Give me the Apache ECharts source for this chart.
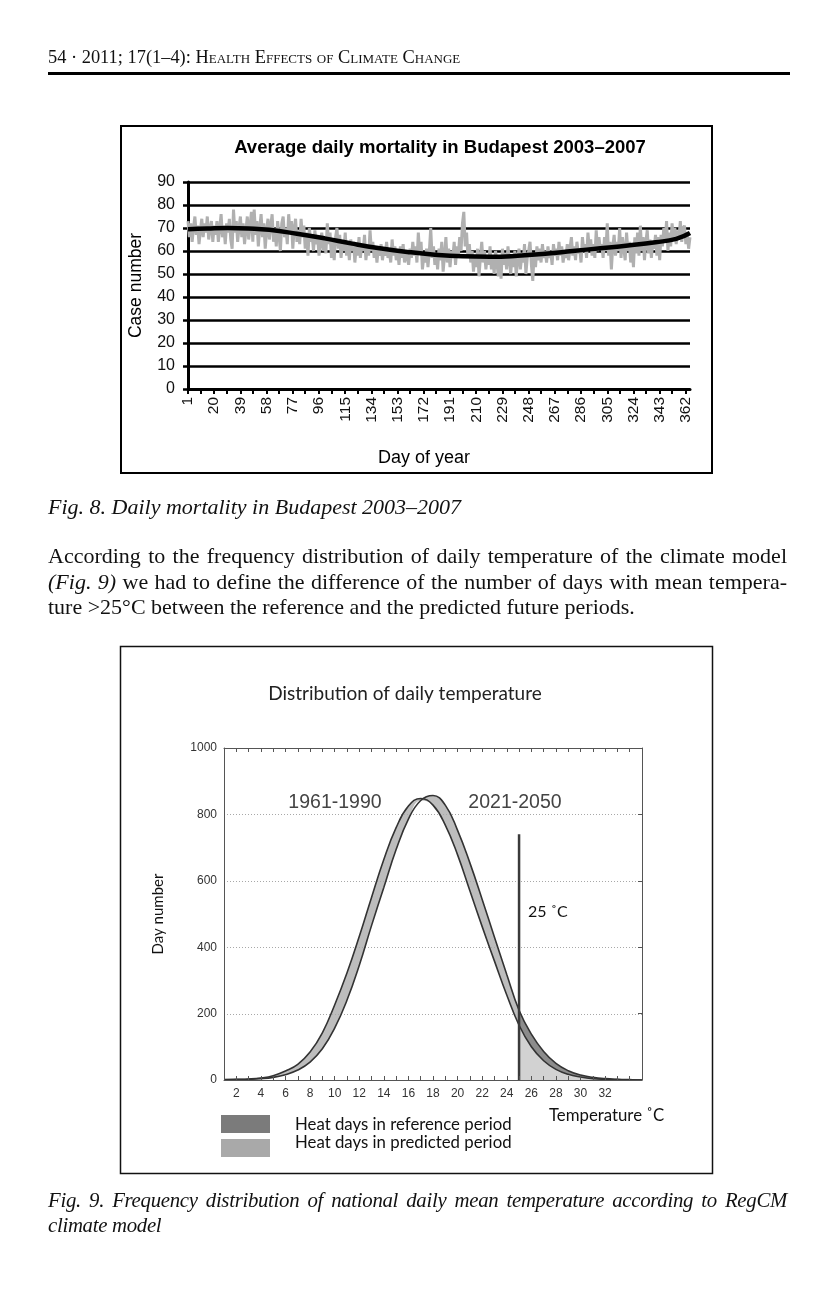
<!DOCTYPE html>
<html>
<head>
<meta charset="utf-8">
<script src="https://cdn.jsdelivr.net/npm/echarts@6/dist/echarts.min.js"></script>
<style>
  body{margin:0;width:834px;height:1294px;background:#fff;position:relative;overflow:hidden;font-family:'Liberation Serif','Times New Roman',serif;color:#111}
  #chart{position:absolute;left:0;top:0;width:834px;height:1294px;z-index:1}
  .t{position:absolute;font-size:22px;line-height:25px;white-space:nowrap;z-index:2}
  .j{text-align:justify;text-align-last:justify;white-space:normal;width:739px}
  .i{font-style:italic}
  .cap9{font-size:20.8px;letter-spacing:-0.3px}
</style>
</head>
<body>
<div id="chart"></div>
<div class="t" style="left:48px;top:47px;font-size:18.4px;line-height:20px;">54 &middot; 2011; 17(1–4): <span style="font-variant:small-caps">Health Effects of Climate Change</span></div>
<div style="position:absolute;left:48px;top:72px;width:742px;height:3px;background:#000;z-index:2"></div>
<div class="t i" style="left:48px;top:494px;">Fig. 8. Daily mortality in Budapest 2003–2007</div>
<div class="t j" style="left:48px;top:543px;">According to the frequency distribution of daily temperature of the climate model</div>
<div class="t j" style="left:48px;top:569px;"><span class="i">(Fig. 9)</span> we had to define the difference of the number of days with mean tempera-</div>
<div class="t" style="left:48px;top:594px;">ture &gt;25°C between the reference and the predicted future periods.</div>
<div class="t j i cap9" style="left:48px;top:1187px;">Fig. 9. Frequency distribution of national daily mean temperature according to RegCM</div>
<div class="t i cap9" style="left:48px;top:1212px;">climate model</div>
<script>
// ---------- Fig. 8 data ----------
const dailyMortality = [
  73,66,72,64,70,75,67,71,63,69,74,66,72,68,75,65,70,73,64,71,
  67,73,64,70,76,66,71,63,72,68,74,65,61,78,68,73,64,70,75,66,
  72,63,69,75,65,71,77,64,78,67,73,62,70,76,66,72,61,69,74,65,
  71,76,64,70,62,73,67,60,72,75,66,70,63,76,68,73,61,70,74,64,
  69,63,74,66,71,61,68,58,70,64,67,60,69,63,66,58,64,68,60,65,
  59,72,63,68,57,64,56,66,70,61,67,57,64,60,68,58,63,56,65,60,
  64,55,62,58,66,57,63,60,67,56,62,58,69,60,64,57,62,55,61,58,
  63,56,61,58,64,57,60,55,65,58,62,56,60,54,62,57,63,55,60,57,
  54,61,57,64,58,62,55,68,59,64,52,58,55,61,53,60,70,57,62,54,
  59,52,61,56,64,51,58,66,55,61,53,60,57,64,54,62,58,66,60,72,
  77,62,68,57,63,55,60,51,58,53,61,49,57,64,55,60,52,58,54,62,
  52,58,50,60,55,49,57,48,61,54,59,52,62,56,50,58,53,60,49,56,
  61,52,58,55,63,50,57,60,64,54,47,59,53,62,56,61,55,63,57,60,
  55,62,57,60,54,63,58,61,56,64,58,62,55,60,57,63,56,61,66,58,
  62,56,64,59,61,55,66,60,63,57,68,61,65,58,63,57,69,60,66,61,
  63,57,66,60,72,58,64,52,62,67,58,64,60,70,57,66,61,56,68,60,
  64,55,62,53,66,59,68,58,71,60,66,56,64,69,59,65,57,64,61,67,
  58,66,56,67,62,70,64,73,60,68,62,72,65,70,63,69,66,73,64,70,
  71,63,68,61,66
];
const trendDays   = [1,15,30,45,60,80,100,120,140,160,180,200,220,240,260,280,300,320,340,355,365];
const trendValues = [69.5,69.8,70,69.8,69.2,67.5,65.5,63.2,61.2,59.6,58.4,57.7,57.5,57.9,58.8,60,61.2,62.4,63.8,65.3,67.8];

// ---------- Fig. 9 data ----------
const tempC = [1,2,3,4,5,6,7,8,9,10,11,12,13,14,15,16,17,18,19,20,21,22,23,24,25,26,27,28,29,30,31,32,33,34,35];
const refDays  = [1,2,3,6,13,27,47,84,142,226,322,432,550,664,760,825,848,828,768,678,570,462,358,256,165,100,58,32,17,9,4,2,1,0,0];
const predDays = [0,1,2,4,8,16,30,54,94,156,240,345,465,580,694,786,842,857,828,752,654,544,430,318,210,138,86,50,28,15,8,4,2,1,0];
const cutoffTemp = 25;
const cutoffTop = 740;
const tempLabels = [2,4,6,8,10,12,14,16,18,20,22,24,26,28,30,32];
const dayGridValues = [200,400,600,800];
const tempMin = 1, tempMax = 35;

// category labels for day of year
const days = [];
for (let d = 1; d <= 365; d++) days.push(String(d));
const tickSet = new Set();
for (let k = 0; k * 9.5 <= 364; k++) tickSet.add(Math.floor(k * 9.5));

const SM = 0.45;
const lowIdx  = tempC.map((t,i)=>i).filter(i=>tempC[i] <= cutoffTemp);
const tailIdx = tempC.map((t,i)=>i).filter(i=>tempC[i] >= cutoffTemp);
const bandTop = lowIdx.map(i=>[tempC[i], Math.max(refDays[i], predDays[i])]);
const bandLow = lowIdx.map(i=>[tempC[i], Math.min(refDays[i], predDays[i])]);
const tailPred = tailIdx.map(i=>[tempC[i], predDays[i]]);
const tailRef  = tailIdx.map(i=>[tempC[i], refDays[i]]);

const sans = 'Liberation Sans, Arial, sans-serif';
const cal = 'Lato, Open Sans, sans-serif';

function areaSeries(name, data, color, z) {
  return {name, type:'line', xAxisIndex:2, yAxisIndex:1, data, smooth:SM, showSymbol:false,
          lineStyle:{opacity:0, width:0}, areaStyle:{color, opacity:1}, z};
}

const chart = echarts.init(document.getElementById('chart'), null, {renderer:'canvas'});
chart.setOption({
  animation:false,
  backgroundColor:'transparent',
  grid:[
    {left:188, top:182, width:502, height:207},
    {left:224, top:748, width:418, height:332}
  ],
  xAxis:[
    {type:'category', gridIndex:0, data:days, boundaryGap:false,
     axisLine:{lineStyle:{color:'#000', width:3}},
     axisTick:{interval:(i)=>tickSet.has(i), length:5, lineStyle:{color:'#000', width:2}},
     axisLabel:{interval:18, rotate:90, fontSize:15.5, fontFamily:sans, color:'#111', margin:8},
     splitLine:{show:false},
     name:'Day of year', nameLocation:'middle', nameGap:60,
     nameTextStyle:{fontSize:18, fontFamily:sans, color:'#000', padding:[0,30,0,0]}},
    {type:'value', gridIndex:0, min:1, max:365, show:false},
    {type:'value', gridIndex:1, min:tempMin, max:tempMax, interval:1, z:10,
     axisLine:{onZero:false, lineStyle:{color:'#555', width:1}},
     axisTick:{inside:true, length:4, lineStyle:{color:'#555'}},
     axisLabel:{fontSize:12, fontFamily:sans, color:'#333', margin:8,
       formatter:(v)=> tempLabels.indexOf(v) >= 0 ? String(v) : ''},
     splitLine:{show:false}},
    {type:'value', gridIndex:1, min:tempMin, max:tempMax, interval:1, position:'top', z:10,
     axisLine:{onZero:false, lineStyle:{color:'#555', width:1}},
     axisTick:{inside:true, length:4, lineStyle:{color:'#555'}},
     axisLabel:{show:false}, splitLine:{show:false}}
  ],
  yAxis:[
    {type:'value', gridIndex:0, min:0, max:90, interval:10,
     axisLine:{show:true, lineStyle:{color:'#000', width:3}},
     axisTick:{show:true, length:5, lineStyle:{color:'#000', width:2.5}},
     axisLabel:{fontSize:16, fontFamily:sans, color:'#111', margin:13},
     splitLine:{lineStyle:{color:'#000', width:2.5}},
     name:'Case number', nameLocation:'middle', nameGap:43,
     nameTextStyle:{fontSize:17.5, fontFamily:sans, color:'#000'}},
    {type:'value', gridIndex:1, min:0, max:1000, interval:200, z:10,
     axisLine:{show:true, onZero:false, lineStyle:{color:'#555', width:1}},
     axisTick:{show:false},
     axisLabel:{fontSize:12, fontFamily:sans, color:'#333', margin:7, formatter:(v)=>String(v)},
     splitLine:{show:false},
     name:'Day number', nameLocation:'middle', nameGap:58,
     nameTextStyle:{fontSize:15, fontFamily:cal, color:'#111'}},
    {type:'value', gridIndex:1, min:0, max:1000, interval:200, position:'right', z:10,
     axisLine:{show:true, onZero:false, lineStyle:{color:'#555', width:1}},
     axisTick:{show:true, inside:true, length:4, lineStyle:{color:'#555'}},
     axisLabel:{show:false}, splitLine:{show:false}}
  ],
  series:[
    {name:'Daily mortality', type:'line', xAxisIndex:0, yAxisIndex:0, data:dailyMortality,
     showSymbol:false, lineStyle:{color:'#b0b0b0', width:3}, z:3},
    {name:'Trend', type:'line', xAxisIndex:1, yAxisIndex:0,
     data:trendDays.map((d,i)=>[d, trendValues[i]]), smooth:true,
     showSymbol:false, lineStyle:{color:'#000', width:4.5}, z:4},

    areaSeries('band', bandTop, '#bdbdbd', 2),
    areaSeries('mask', bandLow, '#ffffff', 3),
    areaSeries('Heat days in reference period', tailPred, '#8c8c8c', 2),
    areaSeries('Heat days in predicted period', tailRef, '#d2d2d2', 3),

    {name:'grid', type:'custom', xAxisIndex:2, yAxisIndex:1, silent:true, z:4,
     data:dayGridValues.map(v=>[tempMin, v]),
     renderItem:(params, api)=>{
       const v = api.value(1);
       const a = api.coord([tempMin, v]);
       const b = api.coord([tempMax, v]);
       const y = Math.round(a[1]) + 0.5;
       return {type:'line', shape:{x1:a[0], y1:y, x2:b[0], y2:y},
               style:{stroke:'#a8a8a8', lineWidth:1, lineDash:[1,2]}};
     }},

    {name:'1961-1990', type:'line', xAxisIndex:2, yAxisIndex:1,
     data:tempC.map((t,i)=>[t, refDays[i]]), smooth:SM, showSymbol:false,
     lineStyle:{color:'#333', width:1.6}, z:5},
    {name:'2021-2050', type:'line', xAxisIndex:2, yAxisIndex:1,
     data:tempC.map((t,i)=>[t, predDays[i]]), smooth:SM, showSymbol:false,
     lineStyle:{color:'#333', width:1.6}, z:5},
    {name:'25 °C', type:'line', xAxisIndex:2, yAxisIndex:1,
     data:[[cutoffTemp,0],[cutoffTemp,cutoffTop]], showSymbol:false,
     lineStyle:{color:'#3a3a3a', width:2.5}, z:6}
  ],
  graphic:[
    {type:'rect', shape:{x:121, y:126, width:591, height:347}, style:{fill:'none', stroke:'#000', lineWidth:2}},
    {type:'rect', shape:{x:120.5, y:646.5, width:592, height:527}, style:{fill:'none', stroke:'#111', lineWidth:1.5}},
    {type:'text', x:440, y:148, style:{text:'Average daily mortality in Budapest 2003–2007', font:'bold 18.5px Liberation Sans, Arial, sans-serif', fill:'#000', textAlign:'center', textVerticalAlign:'middle', align:'center', verticalAlign:'middle'}},
    {type:'text', x:405, y:694, style:{text:'Distribution of daily temperature', font:'19px Lato, Open Sans, sans-serif', fill:'#222', textAlign:'center', textVerticalAlign:'middle', align:'center', verticalAlign:'middle'}},
    {type:'text', x:335, y:803, style:{text:'1961-1990', font:'19.5px Liberation Sans, Arial, sans-serif', fill:'#444', textAlign:'center', textVerticalAlign:'middle', align:'center', verticalAlign:'middle'}},
    {type:'text', x:515, y:803, style:{text:'2021-2050', font:'19.5px Liberation Sans, Arial, sans-serif', fill:'#444', textAlign:'center', textVerticalAlign:'middle', align:'center', verticalAlign:'middle'}},
    {type:'text', x:528, y:912, style:{text:'25 ˚C', font:'16px Lato, Open Sans, sans-serif', fill:'#111', textAlign:'left', textVerticalAlign:'middle', align:'left', verticalAlign:'middle'}},
    {type:'text', x:549, y:1116, style:{text:'Temperature ˚C', font:'16.8px Lato, Open Sans, sans-serif', fill:'#111', textAlign:'left', textVerticalAlign:'middle', align:'left', verticalAlign:'middle'}},
    {type:'rect', shape:{x:221, y:1115, width:49, height:18}, style:{fill:'#7b7b7b'}},
    {type:'rect', shape:{x:221, y:1139, width:49, height:18}, style:{fill:'#a9a9a9'}},
    {type:'text', x:295, y:1125, style:{text:'Heat days in reference period', font:'16.8px Lato, Open Sans, sans-serif', fill:'#111', textAlign:'left', textVerticalAlign:'middle', align:'left', verticalAlign:'middle'}},
    {type:'text', x:295, y:1143, style:{text:'Heat days in predicted period', font:'16.8px Lato, Open Sans, sans-serif', fill:'#111', textAlign:'left', textVerticalAlign:'middle', align:'left', verticalAlign:'middle'}}
  ]
});
</script>
</body>
</html>
